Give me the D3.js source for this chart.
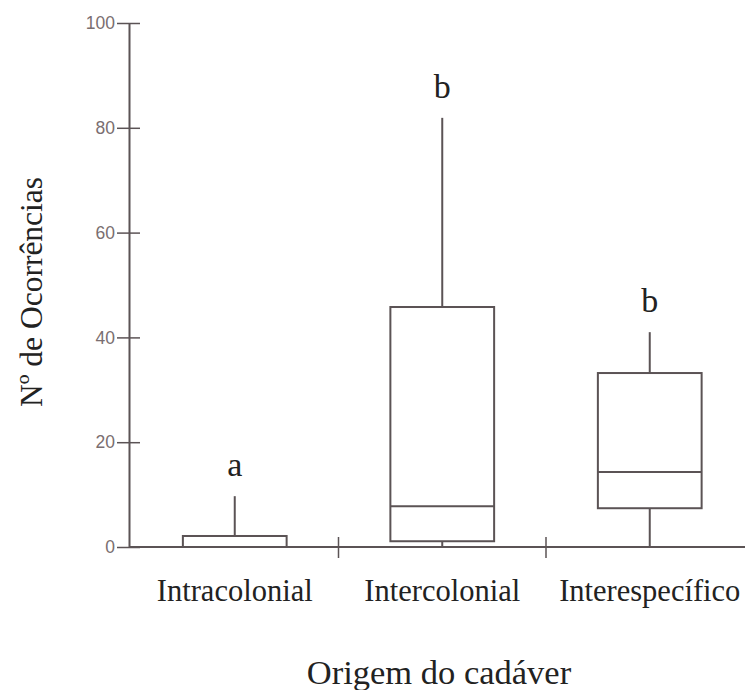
<!DOCTYPE html>
<html>
<head>
<meta charset="utf-8">
<script src="https://d3js.org/d3.v7.min.js"></script>
<style>
body { margin: 0; background: #fff; }
</style>
</head>
<body>
<script>
var categories = ["Intracolonial", "Intercolonial", "Interespecífico"];
var whiskerLow = [0, 0, 0];
var q1 = [0, 1.1, 7.4];
var median = [0, 7.8, 14.3];
var q3 = [2.1, 45.8, 33.2];
var whiskerHigh = [9.7, 81.9, 41];
var letters = ["a", "b", "b"];
var yTicks = [0, 20, 40, 60, 80, 100];

var W = 745, H = 690;
var lineColor = "#5b5355";

var svg = d3.select("body")
    .append("svg")
    .attr("width", W)
    .attr("height", H);

var xScale = d3.scaleBand()
    .domain(categories)
    .range([131, 753.5])
    .paddingInner(0)
    .paddingOuter(0);

var yScale = d3.scaleLinear()
    .domain([0, 100])
    .range([547, 23]);

var boxW = xScale.bandwidth() * 0.5;

// Y axis
var yAxis = d3.axisLeft(yScale)
    .tickValues(yTicks)
    .tickSizeInner(12)
    .tickSizeOuter(0)
    .tickPadding(2);

var gy = svg.append("g")
    .attr("transform", "translate(129,0)")
    .call(yAxis);
gy.select(".domain").attr("stroke", lineColor).attr("stroke-width", 2);
gy.selectAll(".tick line").attr("stroke", lineColor).attr("stroke-width", 1.5);
gy.selectAll(".tick text")
    .attr("fill", "#7a6e70")
    .style("font-family", "Liberation Sans, Arial, sans-serif")
    .style("font-size", "17.5px");

// tick marks on right side of y axis
var gy2 = svg.append("g")
    .attr("transform", "translate(129,0)")
    .call(d3.axisRight(yScale).tickValues(yTicks).tickSizeInner(11).tickSizeOuter(0).tickFormat(""));
gy2.select(".domain").remove();
gy2.selectAll(".tick line").attr("stroke", lineColor).attr("stroke-width", 1.5);

// X axis baseline
svg.append("line")
    .attr("x1", 129)
    .attr("x2", xScale.range()[1])
    .attr("y1", yScale(0))
    .attr("y2", yScale(0))
    .attr("stroke", lineColor)
    .attr("stroke-width", 2);

// separators between categories
svg.selectAll(".sep")
    .data(categories.slice(0, -1))
    .enter()
    .append("line")
    .attr("class", "sep")
    .attr("x1", function (d) { return xScale(d) + xScale.step(); })
    .attr("x2", function (d) { return xScale(d) + xScale.step(); })
    .attr("y1", yScale(0) - 10)
    .attr("y2", yScale(0) + 11)
    .attr("stroke", lineColor)
    .attr("stroke-width", 1.5);

// X labels
svg.selectAll(".xlab")
    .data(categories)
    .enter()
    .append("text")
    .attr("class", "xlab")
    .attr("x", function (d) { return xScale(d) + xScale.bandwidth() / 2; })
    .attr("y", 601)
    .attr("text-anchor", "middle")
    .attr("fill", "#222")
    .style("font-family", "Liberation Serif, Times New Roman, serif")
    .style("font-size", "30.5px")
    .text(function (d) { return d; });

// Boxes
var boxes = svg.selectAll(".box")
    .data(categories)
    .enter()
    .append("g")
    .attr("class", "box");

boxes.append("line")
    .attr("x1", function (d) { return xScale(d) + xScale.bandwidth() / 2; })
    .attr("x2", function (d) { return xScale(d) + xScale.bandwidth() / 2; })
    .attr("y1", function (d, i) { return yScale(q3[i]); })
    .attr("y2", function (d, i) { return yScale(whiskerHigh[i]); })
    .attr("stroke", lineColor)
    .attr("stroke-width", 2);

boxes.append("line")
    .attr("x1", function (d) { return xScale(d) + xScale.bandwidth() / 2; })
    .attr("x2", function (d) { return xScale(d) + xScale.bandwidth() / 2; })
    .attr("y1", function (d, i) { return yScale(q1[i]); })
    .attr("y2", function (d, i) { return yScale(whiskerLow[i]); })
    .attr("stroke", lineColor)
    .attr("stroke-width", 2);

boxes.append("rect")
    .attr("x", function (d) { return xScale(d) + (xScale.bandwidth() - boxW) / 2; })
    .attr("y", function (d, i) { return yScale(q3[i]); })
    .attr("width", boxW)
    .attr("height", function (d, i) { return yScale(q1[i]) - yScale(q3[i]); })
    .attr("fill", "none")
    .attr("stroke", lineColor)
    .attr("stroke-width", 2);

boxes.append("line")
    .attr("x1", function (d) { return xScale(d) + (xScale.bandwidth() - boxW) / 2; })
    .attr("x2", function (d) { return xScale(d) + (xScale.bandwidth() + boxW) / 2; })
    .attr("y1", function (d, i) { return yScale(median[i]); })
    .attr("y2", function (d, i) { return yScale(median[i]); })
    .attr("stroke", lineColor)
    .attr("stroke-width", 2);

// significance letters
boxes.append("text")
    .attr("x", function (d) { return xScale(d) + xScale.bandwidth() / 2; })
    .attr("y", function (d, i) { return yScale(whiskerHigh[i]) - 20; })
    .attr("text-anchor", "middle")
    .attr("fill", "#222")
    .style("font-family", "Liberation Serif, Times New Roman, serif")
    .style("font-size", "34px")
    .text(function (d, i) { return letters[i]; });

// Axis titles
svg.append("text")
    .attr("x", 439)
    .attr("y", 684)
    .attr("text-anchor", "middle")
    .attr("fill", "#222")
    .style("font-family", "Liberation Serif, Times New Roman, serif")
    .style("font-size", "34.5px")
    .text("Origem do cadáver");

svg.append("text")
    .attr("transform", "translate(42,292) rotate(-90)")
    .attr("text-anchor", "middle")
    .attr("fill", "#222")
    .style("font-family", "Liberation Serif, Times New Roman, serif")
    .style("font-size", "31.5px")
    .text("Nº de Ocorrências");
</script>
</body>
</html>
